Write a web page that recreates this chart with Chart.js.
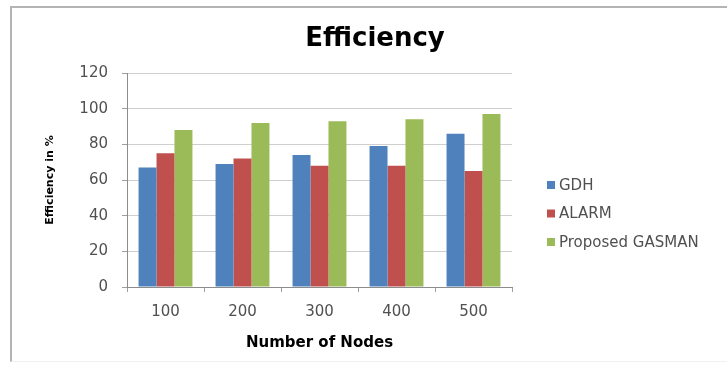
<!DOCTYPE html>
<html>
<head>
<meta charset="utf-8">
<script src="https://cdn.jsdelivr.net/npm/chart.js@4/dist/chart.umd.min.js"></script>
<style>
  html, body { margin: 0; padding: 0; background: #ffffff; }
  #wrap { position: relative; width: 727px; height: 369px; overflow: hidden; }
  #frame {
    position: absolute; left: 10px; top: 6px; width: 740px; height: 356px;
    border-left: 2px solid #b4b4b4; border-top: 2px solid #b4b4b4;
    border-bottom: 1px solid #f0f0f0; box-sizing: border-box;
  }
  #c { position: absolute; left: 0; top: 0; }
</style>
</head>
<body>
<div id="wrap">
  <div id="frame"></div>
  <canvas id="c" width="727" height="369"></canvas>
</div>
<script>
// Number of nodes in the network
const categories = ['100', '200', '300', '400', '500'];

// Efficiency (%) per protocol
const gdh = [67, 69, 74, 79, 86];
const alarm = [75, 72, 68, 68, 65];
const gasman = [88, 92, 93, 94, 97];

const seriesNames = ['GDH', 'ALARM', 'Proposed GASMAN'];
const seriesColors = ['#4F81BD', '#C0504D', '#9BBB59'];

const chartTitle = 'Efficiency';
const yTitle = 'Efficiency in %';
const xTitle = 'Number of Nodes';

const FONT = "'DejaVu Sans', sans-serif";

// Title and right-hand legend drawn on the canvas
const decorations = {
  id: 'decorations',
  afterDraw(chart) {
    const ctx = chart.ctx;
    ctx.save();
    ctx.fillStyle = '#000000';
    ctx.font = "bold 26px " + FONT;
    ctx.textAlign = 'center';
    ctx.textBaseline = 'middle';
    ctx.fillText(chartTitle, 375, 39);

    ctx.font = "15px " + FONT;
    ctx.textAlign = 'left';
    chart.data.datasets.forEach((ds, i) => {
      const cy = 185 + i * 28.5;
      ctx.fillStyle = ds.backgroundColor;
      ctx.fillRect(547, cy - 4, 8, 8);
      ctx.fillStyle = '#505050';
      ctx.fillText(ds.label, 559, cy + 1);
    });
    ctx.restore();
  }
};

const values = [gdh, alarm, gasman];

new Chart(document.getElementById('c'), {
  type: 'bar',
  data: {
    labels: categories,
    datasets: values.map((v, i) => ({
      label: seriesNames[i],
      data: v,
      backgroundColor: seriesColors[i],
      borderWidth: 0,
      barPercentage: 1.0,
      categoryPercentage: 0.7
    }))
  },
  options: {
    responsive: false,
    animation: false,
    devicePixelRatio: 1,
    layout: { padding: { left: 40, right: 215, top: 73, bottom: 10 } },
    plugins: {
      legend: { display: false },
      title: { display: false },
      tooltip: { enabled: false }
    },
    scales: {
      y: {
        min: 0,
        max: 120,
        ticks: { stepSize: 20, color: '#505050', font: { family: FONT, size: 15 }, padding: 14 },
        grid: { color: '#cfcfcf', lineWidth: 1, tickLength: 5, tickColor: '#a0a0a0' },
        border: { color: '#8c8c8c', width: 1 },
        title: {
          display: true, text: yTitle, color: '#000000',
          font: { family: FONT, size: 11, weight: 'bold' },
          padding: { top: 4, bottom: 0 }
        },
        afterFit(scale) { scale.width = 87; }
      },
      x: {
        ticks: { color: '#505050', font: { family: FONT, size: 15 }, padding: 11 },
        grid: { drawOnChartArea: false, drawTicks: true, tickLength: 5, tickColor: '#a0a0a0' },
        border: { color: '#8c8c8c', width: 1 },
        title: {
          display: true, text: xTitle, color: '#000000',
          font: { family: FONT, size: 15, weight: 'bold' },
          padding: { top: 4, bottom: 7 }
        },
        afterFit(scale) { scale.height = 72; }
      }
    }
  },
  plugins: [decorations]
});
</script>
</body>
</html>
